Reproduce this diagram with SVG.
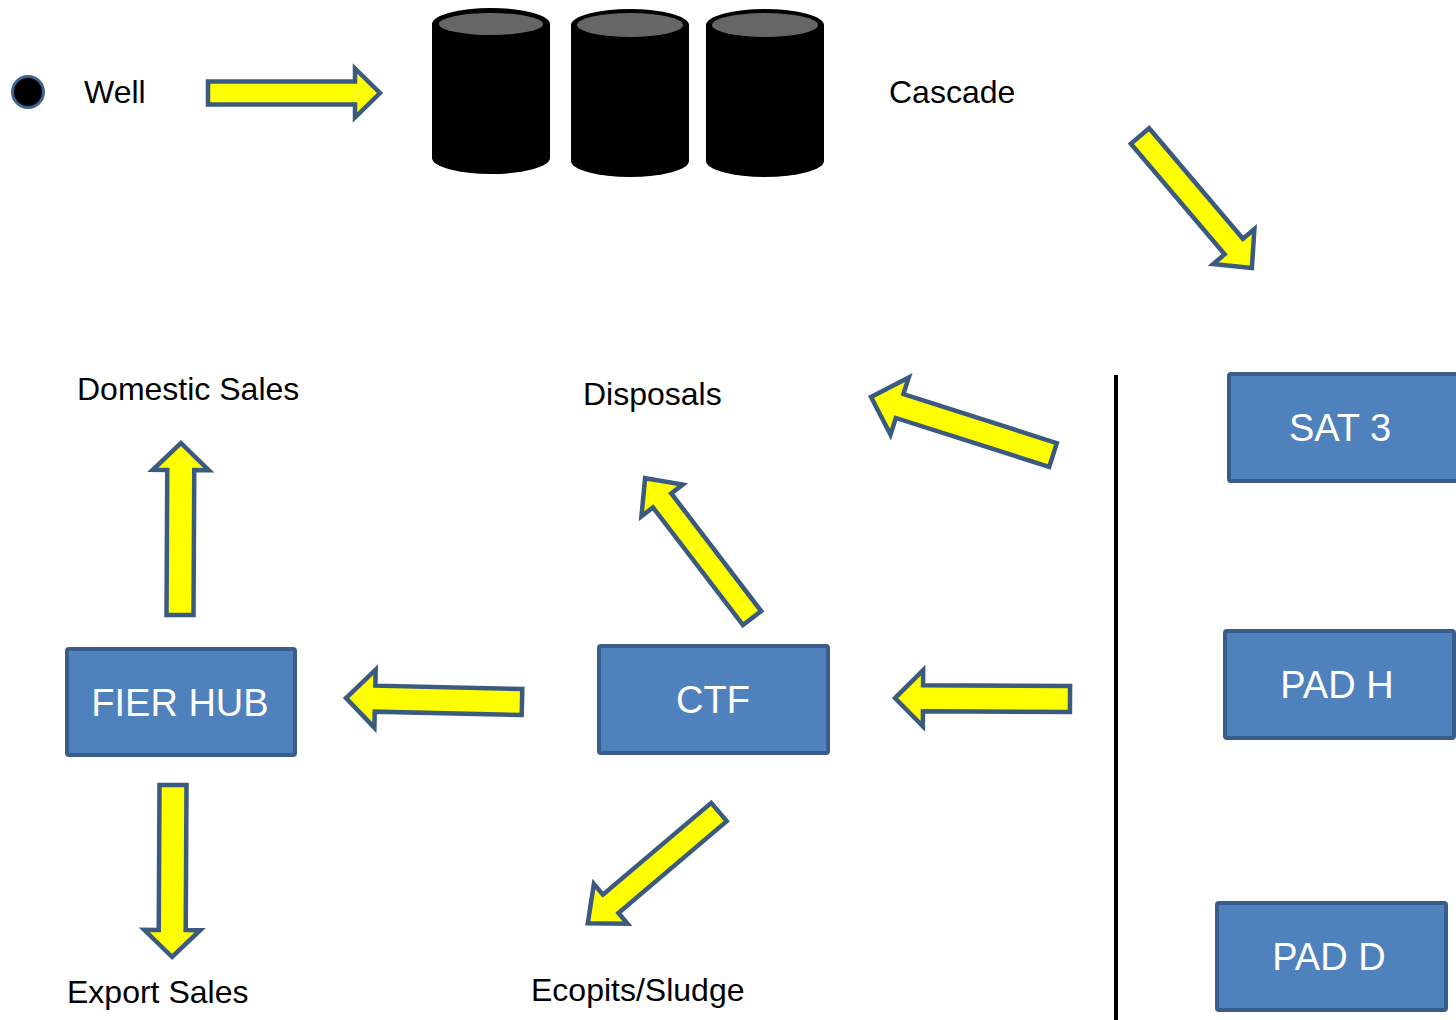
<svg xmlns="http://www.w3.org/2000/svg" width="1456" height="1020" viewBox="0 0 1456 1020">
<style>
.arrow{fill:#ffff00;stroke:#3b5a80;stroke-width:4.5;stroke-linejoin:miter}
.box{fill:#4f81bd;stroke:#385d8a;stroke-width:4}
.lbl{font-family:"Liberation Sans",Arial,sans-serif;font-size:32px;fill:#000}
.btxt{font-family:"Liberation Sans",Arial,sans-serif;font-size:38px;fill:#fff;text-anchor:middle}
.cyl{fill:#000}
.cyltop{fill:#666}
</style>
<rect x="0" y="0" width="1456" height="1020" fill="#fff"/>

<g id="well">
<circle cx="28" cy="92" r="15.5" fill="#000" stroke="#3d6491" stroke-width="3"/>
<text class="lbl" x="84" y="103">Well</text>
</g>

<g id="cascade">
<path class="cyl" d="M432,24 A59,16 0 0 1 550,24 L550,158 A59,16 0 0 1 432,158 Z"/>
<ellipse class="cyltop" cx="491" cy="24" rx="52" ry="11"/>
<path class="cyl" d="M571,25 A59,16 0 0 1 689,25 L689,161 A59,16 0 0 1 571,161 Z"/>
<ellipse class="cyltop" cx="630" cy="25" rx="53" ry="12"/>
<path class="cyl" d="M706,25 A59,16 0 0 1 824,25 L824,161 A59,16 0 0 1 706,161 Z"/>
<ellipse class="cyltop" cx="765" cy="25" rx="53" ry="12"/>
<text class="lbl" x="889" y="103">Cascade</text>
</g>

<g id="divider">
<line x1="1116" y1="375" x2="1116" y2="1020" stroke="#000" stroke-width="4"/>
</g>

<g id="sat3">
<rect class="box" x="1229" y="374" width="229" height="107" rx="2"/>
<text class="btxt" x="1340" y="441">SAT 3</text>
</g>
<g id="padh">
<rect class="box" x="1225" y="631" width="229" height="107" rx="2"/>
<text class="btxt" x="1337" y="698">PAD H</text>
</g>
<g id="padd">
<rect class="box" x="1217" y="903" width="229" height="107" rx="2"/>
<text class="btxt" x="1329" y="970">PAD D</text>
</g>
<g id="ctf">
<rect class="box" x="599" y="646" width="229" height="107" rx="2"/>
<text class="btxt" x="713" y="713">CTF</text>
</g>
<g id="fierhub">
<rect class="box" x="67" y="649" width="228" height="106" rx="2"/>
<text class="btxt" x="180" y="716">FIER HUB</text>
</g>

<g id="domestic"><text class="lbl" x="77" y="400">Domestic Sales</text></g>
<g id="disposals"><text class="lbl" x="583" y="405">Disposals</text></g>
<g id="export"><text class="lbl" x="67" y="1003">Export Sales</text></g>
<g id="ecopits"><text class="lbl" x="531" y="1001">Ecopits/Sludge</text></g>

<g id="connectors">
<polygon class="arrow" transform="translate(208,93)" points="0,-11.5 147,-11.5 147,-24.5 172,0 147,24.5 147,11.5 0,11.5"/>
<polygon class="arrow" transform="translate(1140,136) rotate(49.7)" points="0,-12 145,-12 145,-27 173,0 145,27 145,12 0,12"/>
<polygon class="arrow" transform="translate(1053,455) rotate(197.7)" points="0,-12.5 161,-12.5 161,-30 191,0 161,30 161,12.5 0,12.5"/>
<polygon class="arrow" transform="translate(752,618) rotate(232.6)" points="0,-11.5 148,-11.5 148,-26 176,0 148,26 148,11.5 0,11.5"/>
<polygon class="arrow" transform="translate(1070,699) rotate(180.3)" points="0,-13 147,-13 147,-28 175,0 147,28 147,13 0,13"/>
<polygon class="arrow" transform="translate(522,702) rotate(181.3)" points="0,-13 147,-13 147,-29 176,0 147,29 147,13 0,13"/>
<polygon class="arrow" transform="translate(719,812) rotate(139.7)" points="0,-12 142,-12 142,-26 172,0 142,26 142,12 0,12"/>
<polygon class="arrow" transform="translate(180,615) rotate(-89.7)" points="0,-13.5 145,-13.5 145,-28 172,0 145,28 145,13.5 0,13.5"/>
<polygon class="arrow" transform="translate(173,785) rotate(90.3)" points="0,-13.5 145,-13.5 145,-28 172,0 145,28 145,13.5 0,13.5"/>
</g>
</svg>
